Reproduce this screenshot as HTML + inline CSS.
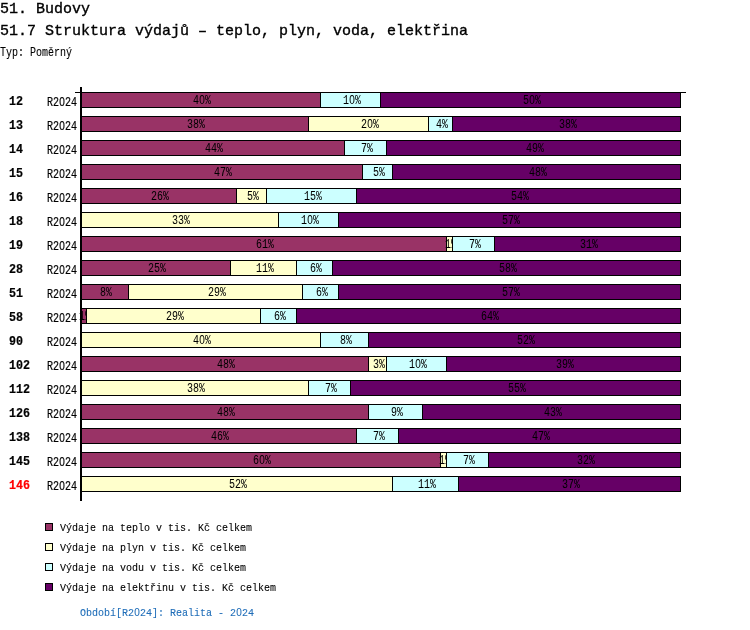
<!DOCTYPE html>
<html><head><meta charset="utf-8"><title>51.7 Struktura výdajů</title>
<style>
html,body{margin:0;padding:0;background:#fff;}
body{width:750px;height:630px;position:relative;overflow:hidden;font-family:"Liberation Mono",monospace;}
.t{position:absolute;white-space:nowrap;line-height:20px;height:20px;transform-origin:0 0;}
.b{position:absolute;box-sizing:border-box;border:1px solid #000;height:16px;}
.z{font-family:"Liberation Sans",sans-serif;display:inline-block;width:0.6em;text-align:center;line-height:0;}
.lg{position:absolute;width:8px;height:8px;box-sizing:border-box;border:1px solid #000;left:45px;}
</style></head><body>

<div class="t" style="left:0.00px;top:0.00px;font-size:15px;font-weight:normal;-webkit-text-stroke:0.35px #000;filter:grayscale(1);">51. Budovy</div>
<div class="t" style="left:0.00px;top:22.00px;font-size:15px;font-weight:normal;-webkit-text-stroke:0.35px #000;filter:grayscale(1);">51.7 Struktura výdajů – teplo, plyn, voda, elektřina</div>
<div class="t" style="left:0.00px;top:42.80px;font-size:12px;transform:scale(0.8333,1);-webkit-text-stroke:0.1px #000;filter:grayscale(1);">Typ: Poměrný</div>
<div style="position:absolute;left:80px;top:87px;width:2px;height:414px;background:#000"></div>
<div style="position:absolute;left:75px;top:92px;width:611px;height:1px;background:#000"></div>
<div class="t" style="left:9.00px;top:92.00px;font-size:12.5px;font-weight:bold;transform:scale(0.9333,1);-webkit-text-stroke:0.2px #000;filter:grayscale(1);">12</div>
<div class="t" style="left:47.00px;top:92.80px;font-size:12px;transform:scale(0.8333,1);-webkit-text-stroke:0.2px #000;filter:grayscale(1);">R2<span class="z">0</span>24</div>
<div class="b" style="left:81px;top:92px;width:240px;background:#993366"></div>
<div class="t" style="left:193.00px;top:90.80px;font-size:12px;transform:scale(0.8333,1);-webkit-text-stroke:0.05px #000;filter:grayscale(1);">4<span class="z">0</span>%</div>
<div class="b" style="left:320px;top:92px;width:61px;background:#CCFFFF"></div>
<div class="t" style="left:342.50px;top:90.80px;font-size:12px;transform:scale(0.8333,1);-webkit-text-stroke:0.05px #000;filter:grayscale(1);">1<span class="z">0</span>%</div>
<div class="b" style="left:380px;top:92px;width:301px;background:#660066"></div>
<div class="t" style="left:522.50px;top:90.80px;font-size:12px;transform:scale(0.8333,1);-webkit-text-stroke:0.05px #000;filter:grayscale(1);">5<span class="z">0</span>%</div>
<div class="t" style="left:9.00px;top:116.00px;font-size:12.5px;font-weight:bold;transform:scale(0.9333,1);-webkit-text-stroke:0.2px #000;filter:grayscale(1);">13</div>
<div class="t" style="left:47.00px;top:116.80px;font-size:12px;transform:scale(0.8333,1);-webkit-text-stroke:0.2px #000;filter:grayscale(1);">R2<span class="z">0</span>24</div>
<div class="b" style="left:81px;top:116px;width:228px;background:#993366"></div>
<div class="t" style="left:187.00px;top:114.80px;font-size:12px;transform:scale(0.8333,1);-webkit-text-stroke:0.05px #000;filter:grayscale(1);">38%</div>
<div class="b" style="left:308px;top:116px;width:121px;background:#FFFFCC"></div>
<div class="t" style="left:360.50px;top:114.80px;font-size:12px;transform:scale(0.8333,1);-webkit-text-stroke:0.05px #000;filter:grayscale(1);">2<span class="z">0</span>%</div>
<div class="b" style="left:428px;top:116px;width:25px;background:#CCFFFF"></div>
<div class="t" style="left:435.50px;top:114.80px;font-size:12px;transform:scale(0.8333,1);-webkit-text-stroke:0.05px #000;filter:grayscale(1);">4%</div>
<div class="b" style="left:452px;top:116px;width:229px;background:#660066"></div>
<div class="t" style="left:558.50px;top:114.80px;font-size:12px;transform:scale(0.8333,1);-webkit-text-stroke:0.05px #000;filter:grayscale(1);">38%</div>
<div class="t" style="left:9.00px;top:140.00px;font-size:12.5px;font-weight:bold;transform:scale(0.9333,1);-webkit-text-stroke:0.2px #000;filter:grayscale(1);">14</div>
<div class="t" style="left:47.00px;top:140.80px;font-size:12px;transform:scale(0.8333,1);-webkit-text-stroke:0.2px #000;filter:grayscale(1);">R2<span class="z">0</span>24</div>
<div class="b" style="left:81px;top:140px;width:264px;background:#993366"></div>
<div class="t" style="left:205.00px;top:138.80px;font-size:12px;transform:scale(0.8333,1);-webkit-text-stroke:0.05px #000;filter:grayscale(1);">44%</div>
<div class="b" style="left:344px;top:140px;width:43px;background:#CCFFFF"></div>
<div class="t" style="left:360.50px;top:138.80px;font-size:12px;transform:scale(0.8333,1);-webkit-text-stroke:0.05px #000;filter:grayscale(1);">7%</div>
<div class="b" style="left:386px;top:140px;width:295px;background:#660066"></div>
<div class="t" style="left:525.50px;top:138.80px;font-size:12px;transform:scale(0.8333,1);-webkit-text-stroke:0.05px #000;filter:grayscale(1);">49%</div>
<div class="t" style="left:9.00px;top:164.00px;font-size:12.5px;font-weight:bold;transform:scale(0.9333,1);-webkit-text-stroke:0.2px #000;filter:grayscale(1);">15</div>
<div class="t" style="left:47.00px;top:164.80px;font-size:12px;transform:scale(0.8333,1);-webkit-text-stroke:0.2px #000;filter:grayscale(1);">R2<span class="z">0</span>24</div>
<div class="b" style="left:81px;top:164px;width:282px;background:#993366"></div>
<div class="t" style="left:214.00px;top:162.80px;font-size:12px;transform:scale(0.8333,1);-webkit-text-stroke:0.05px #000;filter:grayscale(1);">47%</div>
<div class="b" style="left:362px;top:164px;width:31px;background:#CCFFFF"></div>
<div class="t" style="left:372.50px;top:162.80px;font-size:12px;transform:scale(0.8333,1);-webkit-text-stroke:0.05px #000;filter:grayscale(1);">5%</div>
<div class="b" style="left:392px;top:164px;width:289px;background:#660066"></div>
<div class="t" style="left:528.50px;top:162.80px;font-size:12px;transform:scale(0.8333,1);-webkit-text-stroke:0.05px #000;filter:grayscale(1);">48%</div>
<div class="t" style="left:9.00px;top:188.00px;font-size:12.5px;font-weight:bold;transform:scale(0.9333,1);-webkit-text-stroke:0.2px #000;filter:grayscale(1);">16</div>
<div class="t" style="left:47.00px;top:188.80px;font-size:12px;transform:scale(0.8333,1);-webkit-text-stroke:0.2px #000;filter:grayscale(1);">R2<span class="z">0</span>24</div>
<div class="b" style="left:81px;top:188px;width:156px;background:#993366"></div>
<div class="t" style="left:151.00px;top:186.80px;font-size:12px;transform:scale(0.8333,1);-webkit-text-stroke:0.05px #000;filter:grayscale(1);">26%</div>
<div class="b" style="left:236px;top:188px;width:31px;background:#FFFFCC"></div>
<div class="t" style="left:246.50px;top:186.80px;font-size:12px;transform:scale(0.8333,1);-webkit-text-stroke:0.05px #000;filter:grayscale(1);">5%</div>
<div class="b" style="left:266px;top:188px;width:91px;background:#CCFFFF"></div>
<div class="t" style="left:303.50px;top:186.80px;font-size:12px;transform:scale(0.8333,1);-webkit-text-stroke:0.05px #000;filter:grayscale(1);">15%</div>
<div class="b" style="left:356px;top:188px;width:325px;background:#660066"></div>
<div class="t" style="left:510.50px;top:186.80px;font-size:12px;transform:scale(0.8333,1);-webkit-text-stroke:0.05px #000;filter:grayscale(1);">54%</div>
<div class="t" style="left:9.00px;top:212.00px;font-size:12.5px;font-weight:bold;transform:scale(0.9333,1);-webkit-text-stroke:0.2px #000;filter:grayscale(1);">18</div>
<div class="t" style="left:47.00px;top:212.80px;font-size:12px;transform:scale(0.8333,1);-webkit-text-stroke:0.2px #000;filter:grayscale(1);">R2<span class="z">0</span>24</div>
<div class="b" style="left:81px;top:212px;width:198px;background:#FFFFCC"></div>
<div class="t" style="left:172.00px;top:210.80px;font-size:12px;transform:scale(0.8333,1);-webkit-text-stroke:0.05px #000;filter:grayscale(1);">33%</div>
<div class="b" style="left:278px;top:212px;width:61px;background:#CCFFFF"></div>
<div class="t" style="left:300.50px;top:210.80px;font-size:12px;transform:scale(0.8333,1);-webkit-text-stroke:0.05px #000;filter:grayscale(1);">1<span class="z">0</span>%</div>
<div class="b" style="left:338px;top:212px;width:343px;background:#660066"></div>
<div class="t" style="left:501.50px;top:210.80px;font-size:12px;transform:scale(0.8333,1);-webkit-text-stroke:0.05px #000;filter:grayscale(1);">57%</div>
<div class="t" style="left:9.00px;top:236.00px;font-size:12.5px;font-weight:bold;transform:scale(0.9333,1);-webkit-text-stroke:0.2px #000;filter:grayscale(1);">19</div>
<div class="t" style="left:47.00px;top:236.80px;font-size:12px;transform:scale(0.8333,1);-webkit-text-stroke:0.2px #000;filter:grayscale(1);">R2<span class="z">0</span>24</div>
<div class="b" style="left:81px;top:236px;width:366px;background:#993366"></div>
<div class="t" style="left:256.00px;top:234.80px;font-size:12px;transform:scale(0.8333,1);-webkit-text-stroke:0.05px #000;filter:grayscale(1);">61%</div>
<div class="b" style="left:446px;top:236px;width:7px;background:#FFFFCC"></div>
<div class="t" style="left:444.50px;top:234.80px;font-size:12px;transform:scale(0.8333,1);-webkit-text-stroke:0.05px #000;filter:grayscale(1);">1%</div>
<div class="b" style="left:452px;top:236px;width:43px;background:#CCFFFF"></div>
<div class="t" style="left:468.50px;top:234.80px;font-size:12px;transform:scale(0.8333,1);-webkit-text-stroke:0.05px #000;filter:grayscale(1);">7%</div>
<div class="b" style="left:494px;top:236px;width:187px;background:#660066"></div>
<div class="t" style="left:579.50px;top:234.80px;font-size:12px;transform:scale(0.8333,1);-webkit-text-stroke:0.05px #000;filter:grayscale(1);">31%</div>
<div class="t" style="left:9.00px;top:260.00px;font-size:12.5px;font-weight:bold;transform:scale(0.9333,1);-webkit-text-stroke:0.2px #000;filter:grayscale(1);">28</div>
<div class="t" style="left:47.00px;top:260.80px;font-size:12px;transform:scale(0.8333,1);-webkit-text-stroke:0.2px #000;filter:grayscale(1);">R2<span class="z">0</span>24</div>
<div class="b" style="left:81px;top:260px;width:150px;background:#993366"></div>
<div class="t" style="left:148.00px;top:258.80px;font-size:12px;transform:scale(0.8333,1);-webkit-text-stroke:0.05px #000;filter:grayscale(1);">25%</div>
<div class="b" style="left:230px;top:260px;width:67px;background:#FFFFCC"></div>
<div class="t" style="left:255.50px;top:258.80px;font-size:12px;transform:scale(0.8333,1);-webkit-text-stroke:0.05px #000;filter:grayscale(1);">11%</div>
<div class="b" style="left:296px;top:260px;width:37px;background:#CCFFFF"></div>
<div class="t" style="left:309.50px;top:258.80px;font-size:12px;transform:scale(0.8333,1);-webkit-text-stroke:0.05px #000;filter:grayscale(1);">6%</div>
<div class="b" style="left:332px;top:260px;width:349px;background:#660066"></div>
<div class="t" style="left:498.50px;top:258.80px;font-size:12px;transform:scale(0.8333,1);-webkit-text-stroke:0.05px #000;filter:grayscale(1);">58%</div>
<div class="t" style="left:9.00px;top:284.00px;font-size:12.5px;font-weight:bold;transform:scale(0.9333,1);-webkit-text-stroke:0.2px #000;filter:grayscale(1);">51</div>
<div class="t" style="left:47.00px;top:284.80px;font-size:12px;transform:scale(0.8333,1);-webkit-text-stroke:0.2px #000;filter:grayscale(1);">R2<span class="z">0</span>24</div>
<div class="b" style="left:81px;top:284px;width:48px;background:#993366"></div>
<div class="t" style="left:100.00px;top:282.80px;font-size:12px;transform:scale(0.8333,1);-webkit-text-stroke:0.05px #000;filter:grayscale(1);">8%</div>
<div class="b" style="left:128px;top:284px;width:175px;background:#FFFFCC"></div>
<div class="t" style="left:207.50px;top:282.80px;font-size:12px;transform:scale(0.8333,1);-webkit-text-stroke:0.05px #000;filter:grayscale(1);">29%</div>
<div class="b" style="left:302px;top:284px;width:37px;background:#CCFFFF"></div>
<div class="t" style="left:315.50px;top:282.80px;font-size:12px;transform:scale(0.8333,1);-webkit-text-stroke:0.05px #000;filter:grayscale(1);">6%</div>
<div class="b" style="left:338px;top:284px;width:343px;background:#660066"></div>
<div class="t" style="left:501.50px;top:282.80px;font-size:12px;transform:scale(0.8333,1);-webkit-text-stroke:0.05px #000;filter:grayscale(1);">57%</div>
<div class="t" style="left:9.00px;top:308.00px;font-size:12.5px;font-weight:bold;transform:scale(0.9333,1);-webkit-text-stroke:0.2px #000;filter:grayscale(1);">58</div>
<div class="t" style="left:47.00px;top:308.80px;font-size:12px;transform:scale(0.8333,1);-webkit-text-stroke:0.2px #000;filter:grayscale(1);">R2<span class="z">0</span>24</div>
<div class="b" style="left:81px;top:308px;width:6px;background:#993366"></div>
<div class="t" style="left:79.00px;top:306.80px;font-size:12px;transform:scale(0.8333,1);-webkit-text-stroke:0.05px #000;filter:grayscale(1);">1%</div>
<div class="b" style="left:86px;top:308px;width:175px;background:#FFFFCC"></div>
<div class="t" style="left:165.50px;top:306.80px;font-size:12px;transform:scale(0.8333,1);-webkit-text-stroke:0.05px #000;filter:grayscale(1);">29%</div>
<div class="b" style="left:260px;top:308px;width:37px;background:#CCFFFF"></div>
<div class="t" style="left:273.50px;top:306.80px;font-size:12px;transform:scale(0.8333,1);-webkit-text-stroke:0.05px #000;filter:grayscale(1);">6%</div>
<div class="b" style="left:296px;top:308px;width:385px;background:#660066"></div>
<div class="t" style="left:480.50px;top:306.80px;font-size:12px;transform:scale(0.8333,1);-webkit-text-stroke:0.05px #000;filter:grayscale(1);">64%</div>
<div class="t" style="left:9.00px;top:332.00px;font-size:12.5px;font-weight:bold;transform:scale(0.9333,1);-webkit-text-stroke:0.2px #000;filter:grayscale(1);">90</div>
<div class="t" style="left:47.00px;top:332.80px;font-size:12px;transform:scale(0.8333,1);-webkit-text-stroke:0.2px #000;filter:grayscale(1);">R2<span class="z">0</span>24</div>
<div class="b" style="left:81px;top:332px;width:240px;background:#FFFFCC"></div>
<div class="t" style="left:193.00px;top:330.80px;font-size:12px;transform:scale(0.8333,1);-webkit-text-stroke:0.05px #000;filter:grayscale(1);">4<span class="z">0</span>%</div>
<div class="b" style="left:320px;top:332px;width:49px;background:#CCFFFF"></div>
<div class="t" style="left:339.50px;top:330.80px;font-size:12px;transform:scale(0.8333,1);-webkit-text-stroke:0.05px #000;filter:grayscale(1);">8%</div>
<div class="b" style="left:368px;top:332px;width:313px;background:#660066"></div>
<div class="t" style="left:516.50px;top:330.80px;font-size:12px;transform:scale(0.8333,1);-webkit-text-stroke:0.05px #000;filter:grayscale(1);">52%</div>
<div class="t" style="left:9.00px;top:356.00px;font-size:12.5px;font-weight:bold;transform:scale(0.9333,1);-webkit-text-stroke:0.2px #000;filter:grayscale(1);">102</div>
<div class="t" style="left:47.00px;top:356.80px;font-size:12px;transform:scale(0.8333,1);-webkit-text-stroke:0.2px #000;filter:grayscale(1);">R2<span class="z">0</span>24</div>
<div class="b" style="left:81px;top:356px;width:288px;background:#993366"></div>
<div class="t" style="left:217.00px;top:354.80px;font-size:12px;transform:scale(0.8333,1);-webkit-text-stroke:0.05px #000;filter:grayscale(1);">48%</div>
<div class="b" style="left:368px;top:356px;width:19px;background:#FFFFCC"></div>
<div class="t" style="left:372.50px;top:354.80px;font-size:12px;transform:scale(0.8333,1);-webkit-text-stroke:0.05px #000;filter:grayscale(1);">3%</div>
<div class="b" style="left:386px;top:356px;width:61px;background:#CCFFFF"></div>
<div class="t" style="left:408.50px;top:354.80px;font-size:12px;transform:scale(0.8333,1);-webkit-text-stroke:0.05px #000;filter:grayscale(1);">1<span class="z">0</span>%</div>
<div class="b" style="left:446px;top:356px;width:235px;background:#660066"></div>
<div class="t" style="left:555.50px;top:354.80px;font-size:12px;transform:scale(0.8333,1);-webkit-text-stroke:0.05px #000;filter:grayscale(1);">39%</div>
<div class="t" style="left:9.00px;top:380.00px;font-size:12.5px;font-weight:bold;transform:scale(0.9333,1);-webkit-text-stroke:0.2px #000;filter:grayscale(1);">112</div>
<div class="t" style="left:47.00px;top:380.80px;font-size:12px;transform:scale(0.8333,1);-webkit-text-stroke:0.2px #000;filter:grayscale(1);">R2<span class="z">0</span>24</div>
<div class="b" style="left:81px;top:380px;width:228px;background:#FFFFCC"></div>
<div class="t" style="left:187.00px;top:378.80px;font-size:12px;transform:scale(0.8333,1);-webkit-text-stroke:0.05px #000;filter:grayscale(1);">38%</div>
<div class="b" style="left:308px;top:380px;width:43px;background:#CCFFFF"></div>
<div class="t" style="left:324.50px;top:378.80px;font-size:12px;transform:scale(0.8333,1);-webkit-text-stroke:0.05px #000;filter:grayscale(1);">7%</div>
<div class="b" style="left:350px;top:380px;width:331px;background:#660066"></div>
<div class="t" style="left:507.50px;top:378.80px;font-size:12px;transform:scale(0.8333,1);-webkit-text-stroke:0.05px #000;filter:grayscale(1);">55%</div>
<div class="t" style="left:9.00px;top:404.00px;font-size:12.5px;font-weight:bold;transform:scale(0.9333,1);-webkit-text-stroke:0.2px #000;filter:grayscale(1);">126</div>
<div class="t" style="left:47.00px;top:404.80px;font-size:12px;transform:scale(0.8333,1);-webkit-text-stroke:0.2px #000;filter:grayscale(1);">R2<span class="z">0</span>24</div>
<div class="b" style="left:81px;top:404px;width:288px;background:#993366"></div>
<div class="t" style="left:217.00px;top:402.80px;font-size:12px;transform:scale(0.8333,1);-webkit-text-stroke:0.05px #000;filter:grayscale(1);">48%</div>
<div class="b" style="left:368px;top:404px;width:55px;background:#CCFFFF"></div>
<div class="t" style="left:390.50px;top:402.80px;font-size:12px;transform:scale(0.8333,1);-webkit-text-stroke:0.05px #000;filter:grayscale(1);">9%</div>
<div class="b" style="left:422px;top:404px;width:259px;background:#660066"></div>
<div class="t" style="left:543.50px;top:402.80px;font-size:12px;transform:scale(0.8333,1);-webkit-text-stroke:0.05px #000;filter:grayscale(1);">43%</div>
<div class="t" style="left:9.00px;top:428.00px;font-size:12.5px;font-weight:bold;transform:scale(0.9333,1);-webkit-text-stroke:0.2px #000;filter:grayscale(1);">138</div>
<div class="t" style="left:47.00px;top:428.80px;font-size:12px;transform:scale(0.8333,1);-webkit-text-stroke:0.2px #000;filter:grayscale(1);">R2<span class="z">0</span>24</div>
<div class="b" style="left:81px;top:428px;width:276px;background:#993366"></div>
<div class="t" style="left:211.00px;top:426.80px;font-size:12px;transform:scale(0.8333,1);-webkit-text-stroke:0.05px #000;filter:grayscale(1);">46%</div>
<div class="b" style="left:356px;top:428px;width:43px;background:#CCFFFF"></div>
<div class="t" style="left:372.50px;top:426.80px;font-size:12px;transform:scale(0.8333,1);-webkit-text-stroke:0.05px #000;filter:grayscale(1);">7%</div>
<div class="b" style="left:398px;top:428px;width:283px;background:#660066"></div>
<div class="t" style="left:531.50px;top:426.80px;font-size:12px;transform:scale(0.8333,1);-webkit-text-stroke:0.05px #000;filter:grayscale(1);">47%</div>
<div class="t" style="left:9.00px;top:452.00px;font-size:12.5px;font-weight:bold;transform:scale(0.9333,1);-webkit-text-stroke:0.2px #000;filter:grayscale(1);">145</div>
<div class="t" style="left:47.00px;top:452.80px;font-size:12px;transform:scale(0.8333,1);-webkit-text-stroke:0.2px #000;filter:grayscale(1);">R2<span class="z">0</span>24</div>
<div class="b" style="left:81px;top:452px;width:360px;background:#993366"></div>
<div class="t" style="left:253.00px;top:450.80px;font-size:12px;transform:scale(0.8333,1);-webkit-text-stroke:0.05px #000;filter:grayscale(1);">6<span class="z">0</span>%</div>
<div class="b" style="left:440px;top:452px;width:7px;background:#FFFFCC"></div>
<div class="t" style="left:438.50px;top:450.80px;font-size:12px;transform:scale(0.8333,1);-webkit-text-stroke:0.05px #000;filter:grayscale(1);">1%</div>
<div class="b" style="left:446px;top:452px;width:43px;background:#CCFFFF"></div>
<div class="t" style="left:462.50px;top:450.80px;font-size:12px;transform:scale(0.8333,1);-webkit-text-stroke:0.05px #000;filter:grayscale(1);">7%</div>
<div class="b" style="left:488px;top:452px;width:193px;background:#660066"></div>
<div class="t" style="left:576.50px;top:450.80px;font-size:12px;transform:scale(0.8333,1);-webkit-text-stroke:0.05px #000;filter:grayscale(1);">32%</div>
<div class="t" style="left:9.00px;top:476.00px;font-size:12.5px;font-weight:bold;transform:scale(0.9333,1);-webkit-text-stroke:0.2px #f00;color:#f00;">146</div>
<div class="t" style="left:47.00px;top:476.80px;font-size:12px;transform:scale(0.8333,1);-webkit-text-stroke:0.2px #000;filter:grayscale(1);">R2<span class="z">0</span>24</div>
<div class="b" style="left:81px;top:476px;width:312px;background:#FFFFCC"></div>
<div class="t" style="left:229.00px;top:474.80px;font-size:12px;transform:scale(0.8333,1);-webkit-text-stroke:0.05px #000;filter:grayscale(1);">52%</div>
<div class="b" style="left:392px;top:476px;width:67px;background:#CCFFFF"></div>
<div class="t" style="left:417.50px;top:474.80px;font-size:12px;transform:scale(0.8333,1);-webkit-text-stroke:0.05px #000;filter:grayscale(1);">11%</div>
<div class="b" style="left:458px;top:476px;width:223px;background:#660066"></div>
<div class="t" style="left:561.50px;top:474.80px;font-size:12px;transform:scale(0.8333,1);-webkit-text-stroke:0.05px #000;filter:grayscale(1);">37%</div>
<div class="lg" style="top:523px;background:#993366"></div>
<div class="t" style="left:60.00px;top:517.80px;font-size:11px;transform:scale(0.9091,1);-webkit-text-stroke:0.1px #000;filter:grayscale(1);">Výdaje na teplo v tis. Kč celkem</div>
<div class="lg" style="top:543px;background:#FFFFCC"></div>
<div class="t" style="left:60.00px;top:537.80px;font-size:11px;transform:scale(0.9091,1);-webkit-text-stroke:0.1px #000;filter:grayscale(1);">Výdaje na plyn v tis. Kč celkem</div>
<div class="lg" style="top:563px;background:#CCFFFF"></div>
<div class="t" style="left:60.00px;top:557.80px;font-size:11px;transform:scale(0.9091,1);-webkit-text-stroke:0.1px #000;filter:grayscale(1);">Výdaje na vodu v tis. Kč celkem</div>
<div class="lg" style="top:583px;background:#660066"></div>
<div class="t" style="left:60.00px;top:577.80px;font-size:11px;transform:scale(0.9091,1);-webkit-text-stroke:0.1px #000;filter:grayscale(1);">Výdaje na elektřinu v tis. Kč celkem</div>
<div class="t" style="left:80.00px;top:602.80px;font-size:11px;transform:scale(0.9091,1);-webkit-text-stroke:0.1px #1f6db8;color:#1f6db8;">Období[R2<span class="z">0</span>24]: Realita - 2<span class="z">0</span>24</div>
</body></html>
